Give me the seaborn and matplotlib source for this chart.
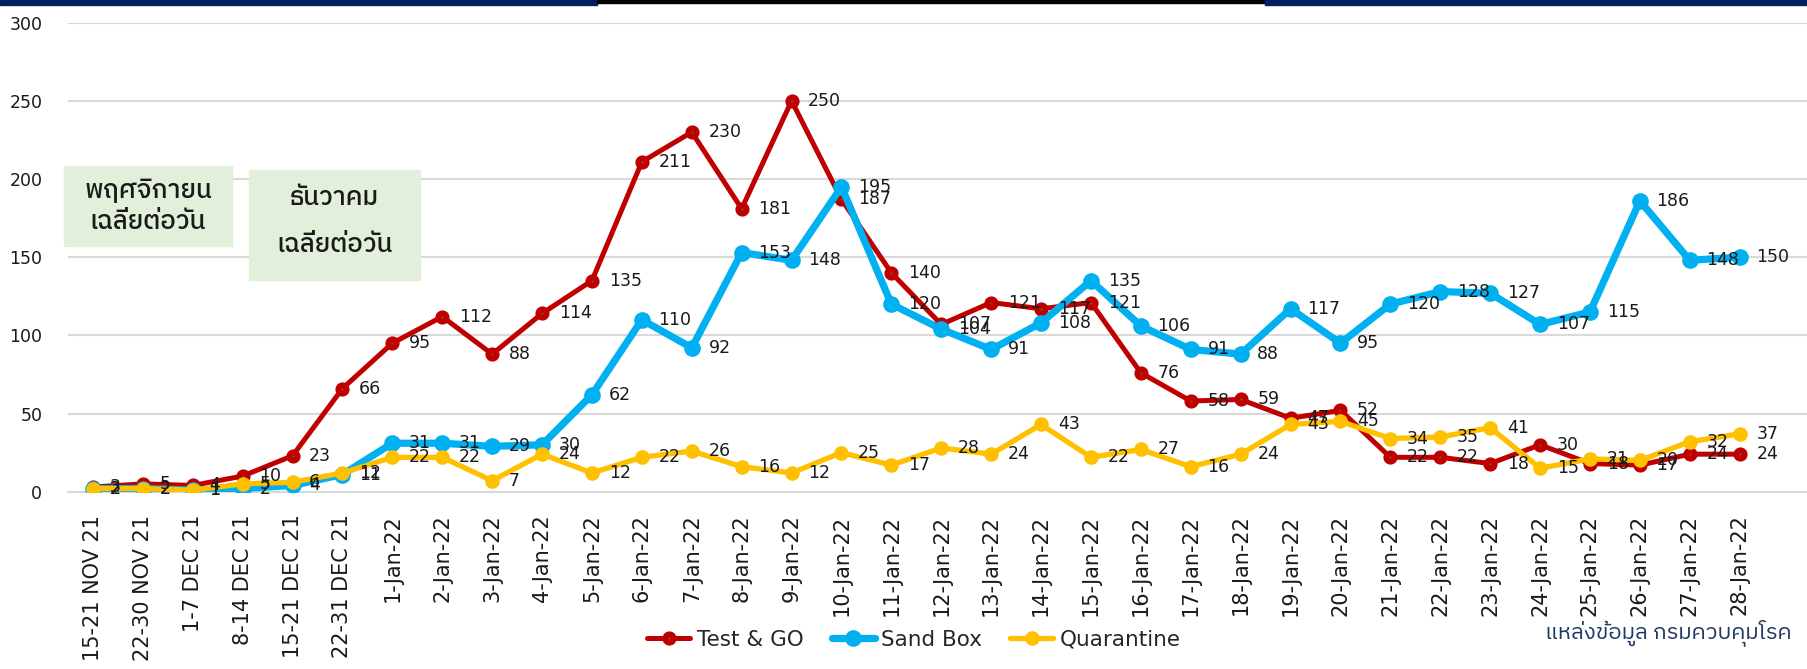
import numpy as np
import pandas as pd
import matplotlib
matplotlib.use("Agg")
import matplotlib.pyplot as plt
import seaborn as sns
from matplotlib import font_manager
from matplotlib.ft2font import FT2Font
from matplotlib.patches import Rectangle

periods = [
    "15-21 NOV 21", "22-30 NOV 21", "1-7 DEC 21", "8-14 DEC 21",
    "15-21 DEC 21", "22-31 DEC 21",
    "1-Jan-22", "2-Jan-22", "3-Jan-22", "4-Jan-22", "5-Jan-22", "6-Jan-22",
    "7-Jan-22", "8-Jan-22", "9-Jan-22", "10-Jan-22", "11-Jan-22", "12-Jan-22",
    "13-Jan-22", "14-Jan-22", "15-Jan-22", "16-Jan-22", "17-Jan-22", "18-Jan-22",
    "19-Jan-22", "20-Jan-22", "21-Jan-22", "22-Jan-22", "23-Jan-22", "24-Jan-22",
    "25-Jan-22", "26-Jan-22", "27-Jan-22", "28-Jan-22",
]
test_go = [3, 5, 4, 10, 23, 66, 95, 112, 88, 114, 135, 211, 230, 181, 250, 187,
           140, 107, 121, 117, 121, 76, 58, 59, 47, 52, 22, 22, 18, 30, 18, 17,
           24, 24]
sand_box = [2, 2, 1, 2, 4, 11, 31, 31, 29, 30, 62, 110, 92, 153, 148, 195,
            120, 104, 91, 108, 135, 106, 91, 88, 117, 95, 120, 128, 127, 107,
            115, 186, 148, 150]
quarantine = [2, 2, 1, 5, 6, 12, 22, 22, 7, 24, 12, 22, 26, 16, 12, 25, 17, 28,
              24, 43, 22, 27, 16, 24, 43, 45, 34, 35, 41, 15, 21, 20, 32, 37]

y_ticks = [0, 50, 100, 150, 200, 250, 300]
source_text = "แหล่งข้อมูล กรมควบคุมโรค"
box_texts = ["พฤศจิกายน\nเฉลี่ยต่อวัน", "ธันวาคม\nเฉลี่ยต่อวัน"]


def find_thai_family():
    fonts = sorted(font_manager.fontManager.ttflist,
                   key=lambda f: (0 if "Thai" in f.name else 1, f.name))
    for f in fonts:
        try:
            if 0x0E01 in FT2Font(f.fname).get_charmap():
                return f.name
        except Exception:
            pass
    return "DejaVu Sans"


def main():
    sns.set_theme(style="white")
    thai = find_thai_family()
    plt.rcParams["font.family"] = ["DejaVu Sans", thai]

    W, H = 1808, 669
    fig = plt.figure(figsize=(W / 100, H / 100), dpi=100)
    ax = fig.add_axes([68 / W, 1 - 491.7 / H, 1 - 68 / W, (491.7 - 22.7) / H])

    x = np.arange(len(periods))
    df = pd.DataFrame({"x": x, "Test & GO": test_go, "Sand Box": sand_box,
                       "Quarantine": quarantine})

    styles = {
        "Test & GO": dict(color="#C00000", lw=3.6, marker="o", ms=6.0,
                          mfc="#6B5B1E", mec="#C00000", mew=4.2),
        "Sand Box": dict(color="#00B0F0", lw=5.2, marker="o", ms=12,
                         mfc="#00B0F0", mec="#00B0F0", mew=0),
        "Quarantine": dict(color="#FFC000", lw=3.8, marker="o", ms=10.5,
                           mfc="#FFC000", mec="#FFC000", mew=0),
    }
    for z, (name, st) in enumerate(styles.items()):
        sns.lineplot(data=df, x="x", y=name, ax=ax, label=name, sort=False,
                     color=st["color"], linewidth=st["lw"], marker=st["marker"],
                     markersize=st["ms"], markerfacecolor=st["mfc"],
                     markeredgecolor=st["mec"], markeredgewidth=st["mew"],
                     zorder=3 + z)
        for xi, v in zip(x, df[name]):
            ax.annotate(str(v), (xi, v), xytext=(12, 0), textcoords="offset points",
                        ha="left", va="center", fontsize=12.5, color="#1a1a1a",
                        zorder=10)

    ax.set_xlim(-0.5, (W - 93) / 49.9)
    ax.set_ylim(0, 300)
    ax.set_yticks(y_ticks)
    ax.set_yticklabels([str(t) for t in y_ticks], fontsize=12.5, color="#1a1a1a")
    ax.set_xticks(x)
    ax.set_xticklabels(periods, rotation=90, fontsize=15, color="#1a1a1a")
    ax.tick_params(axis="y", length=0, pad=18.5)
    ax.tick_params(axis="x", length=0, pad=16.5)
    ax.set_xlabel("")
    ax.set_ylabel("")
    ax.yaxis.grid(True, color="#D9D9D9", lw=1.5)
    ax.set_axisbelow(True)
    for s in ["left", "right", "top"]:
        ax.spines[s].set_visible(False)
    ax.spines["bottom"].set_color("#D9D9D9")
    ax.spines["bottom"].set_linewidth(1.5)

    ax.legend(loc="center", bbox_to_anchor=(914 / W, 1 - 640 / H),
              bbox_transform=fig.transFigure, ncol=3, frameon=False,
              fontsize=15.5, handlelength=2.0, handletextpad=0.3,
              columnspacing=1.3)

    # green month boxes
    boxes = [(64, 166, 232, 246, (191, 222)), (249, 170, 420, 280, (198, 245))]
    for (x0, y0, x1, y1, ys), txt in zip(boxes, box_texts):
        fig.add_artist(Rectangle((x0 / W, 1 - y1 / H), (x1 - x0) / W, (y1 - y0) / H,
                                 transform=fig.transFigure, color="#E2EFDA",
                                 zorder=20))
        for yy, line in zip(ys, txt.split("\n")):
            fig.text((x0 + x1) / 2 / W, 1 - yy / H, line, ha="center", va="center",
                     fontsize=18.5, color="#1a1a1a", family=[thai, "DejaVu Sans"],
                     weight="medium", zorder=21)

    fig.text(1792 / W, 1 - 633 / H, source_text, ha="right", va="center",
             fontsize=16, color="#203864", family=[thai, "DejaVu Sans"])

    # top banner strips
    fig.add_artist(Rectangle((0, 1 - 4.5 / H), 597 / W, 4.5 / H,
                             transform=fig.transFigure, color="#002060"))
    fig.add_artist(Rectangle((597 / W, 1 - 3.3 / H), (1265 - 597) / W, 3.3 / H,
                             transform=fig.transFigure, color="#000000"))
    fig.add_artist(Rectangle((1265 / W, 1 - 4.5 / H), (W - 1265) / W, 4.5 / H,
                             transform=fig.transFigure, color="#002060"))

    fig.savefig("out.png", dpi=100)
    plt.close(fig)


if __name__ == "__main__":
    main()
